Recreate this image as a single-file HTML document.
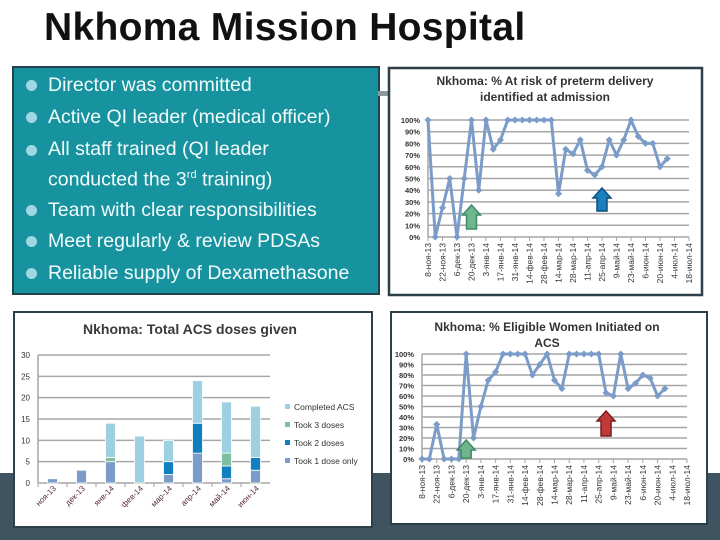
<!DOCTYPE html>
<html><head><meta charset="utf-8"><style>
body{margin:0;width:720px;height:540px;overflow:hidden;background:#fff;position:relative;font-family:"Liberation Sans","Noto Sans CJK SC",sans-serif}
#title{position:absolute;left:44px;top:6px;font-size:39px;font-weight:bold;color:#111;letter-spacing:0.3px}
#band{position:absolute;left:0;top:473px;width:720px;height:67px;background:#3f5460}
#box{position:absolute;left:12px;top:66px;width:364px;height:225px;background:#17939f;border:2px solid #26424c}
#box ul{list-style:none;margin:0;padding:0;position:absolute;left:0;top:2px}
#box li{color:#f2fbfc;font-size:19.5px;line-height:31.5px;padding-left:34px;position:relative;white-space:nowrap}
#box li:before{content:"";position:absolute;left:12px;top:10px;width:11px;height:11px;border-radius:50%;background:#9ed8e6}
#box li.two{line-height:26px;padding-top:3px;padding-bottom:2px}
#box li.two:before{top:12px}
svg{position:absolute;left:0;top:0}
</style></head><body>
<div id="title">Nkhoma Mission Hospital</div>
<div id="band"></div>
<div id="box"><ul>
<li>Director was committed</li>
<li>Active QI leader (medical officer)</li>
<li class="two">All staff trained (QI leader<br>conducted the 3<sup style="font-size:11px">rd</sup> training)</li>
<li>Team with clear responsibilities</li>
<li>Meet regularly &amp; review PDSAs</li>
<li>Reliable supply of Dexamethasone</li>
</ul></div>
<svg id="svg" width="720" height="540"></svg>
<script>
const dateLabels=["8-ноя-13","22-ноя-13","6-дек-13","20-дек-13","3-янв-14","17-янв-14","31-янв-14","14-фев-14","28-фев-14","14-мар-14","28-мар-14","11-апр-14","25-апр-14","9-май-14","23-май-14","6-июн-14","20-июн-14","4-июл-14","18-июл-14"];
const pctTicks=["0%","10%","20%","30%","40%","50%","60%","70%","80%","90%","100%"];
const riskValues=[100,0,25,50,0,50,100,40,100,75,83,100,100,100,100,100,100,100,37,75,71,83,57,53,60,83,70,83,100,86,80,80,60,67];
const initValues=[0,0,33,0,0,0,100,20,50,75,83,100,100,100,100,80,90,100,75,67,100,100,100,100,100,63,60,100,67,72,80,77,60,67];
const months=["ноя-13","дек-13","янв-14","фев-14","мар-14","апр-14","май-14","июн-14"];
const oneDose=[1,3,5,0,2,7,1,3];
const twoDoses=[0,0,0,0,3,7,3,3];
const threeDoses=[0,0,1,0,0,0,3,0];
const completed=[0,0,8,11,5,10,12,12];
const countTicks=[0,5,10,15,20,25,30];

const S=document.getElementById('svg');const NS="http://www.w3.org/2000/svg";
function el(t,a,p){const e=document.createElementNS(NS,t);for(const k in a)e.setAttribute(k,a[k]);(p||S).appendChild(e);return e;}
function txt(x,y,s,a,p){const e=el('text',Object.assign({x:x,y:y,'font-family':'Liberation Sans, sans-serif'},a),p);e.textContent=s;return e;}

function lineChart(o){
  const g=el('g',{});
  
  
  const panel=el('rect',{x:o.px,y:o.py,width:o.pw,height:o.ph,fill:'#fff',stroke:'#2d3f48','stroke-width':o.border},g);
  
  
  o.title.forEach((t,i)=>{const e=txt(o.tx,o.ty+i*16,t,{'font-size':12,'font-weight':'bold',fill:'#333','text-anchor':'middle'},g);
    });
  const yS=v=>o.y0+(o.y1-o.y0)*v/100;
  const step=(o.xl-o.x0)/36;
  const xS=i=>o.x0+i*step;
  pctTicks.forEach((t,i)=>{const v=i*10;
    const gl=el('line',{x1:o.x0,x2:o.xl,y1:yS(v),y2:yS(v),stroke:'#a6a6a6','stroke-width':1.5},g);
    
    const tl=txt(o.x0-8,yS(v)+3,t,{'font-size':7.5,'font-weight':'bold',fill:'#333','text-anchor':'end'},g);
    });
  el('line',{x1:o.x0,x2:o.x0,y1:o.y0,y2:o.y1,stroke:'#a6a6a6','stroke-width':1.5},g);
  dateLabels.forEach((t,i)=>{const x=xS(i*2);
    el('line',{x1:x,x2:x,y1:o.y0,y2:o.y0+4,stroke:'#a6a6a6'},g);
    const tl=txt(0,0,t,{'font-size':8.5,fill:'#333','text-anchor':'end',transform:`translate(${x+3},${o.y0+6}) rotate(-90)`},g);
    });
  const pts=o.values.map((v,i)=>xS(i)+','+yS(v)).join(' ');
  const pl=el('polyline',{points:pts,fill:'none',stroke:'#7b9cc8','stroke-width':3,'stroke-linejoin':'round'},g);
  
  o.values.forEach((v,i)=>{const m=el('rect',{x:xS(i)-2.5,y:yS(v)-2.5,width:5,height:5,fill:'#7b9cc8',transform:`rotate(45 ${xS(i)} ${yS(v)})`},g);
    });
  o.arrows.forEach(a=>{const ax=xS(a.i),top=a.top,bot=a.bot;
    const ar=el('path',{d:`M${ax-9} ${top+10} L${ax} ${top} L${ax+9} ${top+10} L${ax+5} ${top+10} L${ax+5} ${bot} L${ax-5} ${bot} L${ax-5} ${top+10} Z`,fill:a.fill,stroke:a.stroke,'stroke-width':1.5},g);
    });
}
el('rect',{x:378,y:91,width:12,height:5,fill:'#8a9aa2'});
lineChart({name:'preterm-risk-chart',px:389,py:68,pw:313,ph:227,border:2.5,title:['Nkhoma: % At risk of preterm delivery','identified at admission'],tx:545,ty:85,
  x0:428,xl:689,y0:237,y1:120,values:riskValues,
  arrows:[{i:6,top:205,bot:229,fill:'#6fb58e',stroke:'#3f8a63',name:'green-arrow'},{i:24,top:188,bot:211,fill:'#1a7fbf',stroke:'#0d4f7a',name:'blue-arrow'}]});
lineChart({name:'acs-initiated-chart',px:391,py:312,pw:316,ph:212,border:2,title:['Nkhoma: % Eligible Women Initiated on','ACS'],tx:547,ty:331,
  x0:422,xl:687,y0:459,y1:354,values:initValues,
  arrows:[{i:6,top:440,bot:458,fill:'#6fb58e',stroke:'#3f8a63',name:'green-arrow'},{i:25,top:411,bot:436,fill:'#c0393b',stroke:'#7a1c1e',name:'red-arrow'}]});

(function(){
  const g=el('g',{});
  
  
  el('rect',{x:14,y:312,width:358,height:215,fill:'#fff',stroke:'#2d3f48','stroke-width':2},g);
  const t=txt(190,334,'Nkhoma: Total ACS doses given',{'font-size':14,'font-weight':'bold',fill:'#3a3a3a','text-anchor':'middle'},g);
  
  const x0=38,x1=270,yb=483,yt=355;
  const yS=v=>yb-(yb-yt)*v/30;
  countTicks.forEach(v=>{
    const gl=el('line',{x1:x0,x2:x1,y1:yS(v),y2:yS(v),stroke:'#a6a6a6','stroke-width':1.5},g);
    
    const tl=txt(x0-8,yS(v)+3,String(v),{'font-size':8,fill:'#333','text-anchor':'end'},g);
    });
  el('line',{x1:x0,x2:x0,y1:yt,y2:yb,stroke:'#a6a6a6','stroke-width':1.5},g);
  const bw=(x1-x0)/months.length;
  const series=[[oneDose,'#7b9cc8','took-1-dose'],[twoDoses,'#0f7fc0','took-2-doses'],[threeDoses,'#7fbf9f','took-3-doses'],[completed,'#9dd0e0','completed-acs']];
  months.forEach((m,i)=>{const cx=x0+bw*(i+0.5);let acc=0;
    series.forEach(s=>{const v=s[0][i];if(v>0){const r=el('rect',{x:cx-5,y:yS(acc+v),width:10,height:yS(acc)-yS(acc+v),fill:s[1],stroke:'#fff','stroke-width':0.8},g);
      }acc+=v;});
    el('line',{x1:x0+bw*i,x2:x0+bw*i,y1:yb,y2:yb+4,stroke:'#a6a6a6'},g);
    const tl=txt(0,0,m,{'font-size':8,fill:'#5a2c3a','text-anchor':'end',transform:`translate(${cx+4},${yb+6}) rotate(-45)`},g);
    });
  const leg=[['Completed ACS','#9dd0e0'],['Took 3 doses','#7fbf9f'],['Took 2 doses','#0f7fc0'],['Took 1 dose only','#7b9cc8']];
  leg.forEach((l,i)=>{const y=409+i*18;
    const r=el('rect',{x:285,y:y-5,width:5,height:5,fill:l[1]},g);
    
    const e=txt(294,y+1,l[0],{'font-size':8.5,fill:'#333'},g);
    });
})();
</script>
</body></html>
